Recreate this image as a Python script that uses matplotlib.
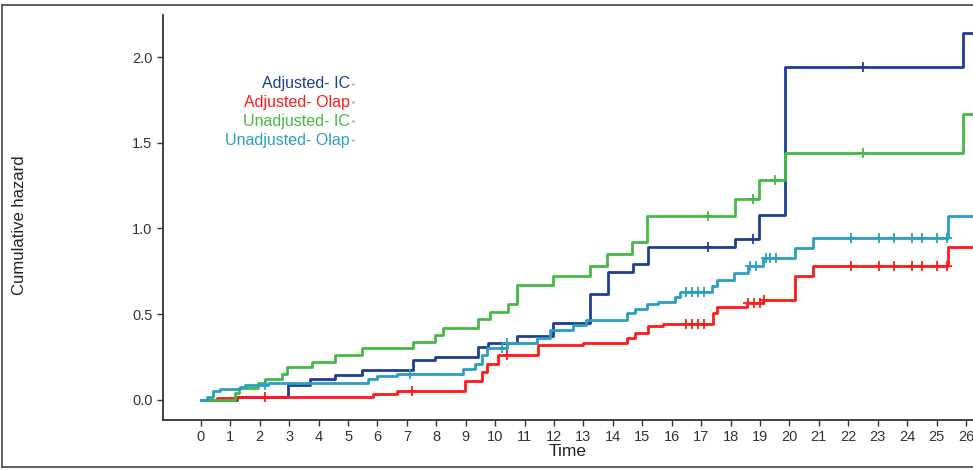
import numpy as np
import matplotlib
matplotlib.use('Agg')
import matplotlib.pyplot as plt
from matplotlib.lines import Line2D

plt.rcParams['font.family'] = ['Liberation Sans', 'DejaVu Sans']

# Данные ступенчатых кривых (время, кумулятивный риск)
green_t = [0, 1.16, 1.3, 1.94, 2.18, 2.74, 2.91, 3.76, 4.55, 5.46, 7.22, 7.95, 8.23, 9.43, 9.82,
           10.45, 10.73, 11.98, 13.22, 13.81, 14.66, 15.17, 18.15, 18.97, 19.85, 25.89, 26.5]
green_v = [0, 0.04, 0.07, 0.10, 0.12, 0.15, 0.19, 0.22, 0.26, 0.30, 0.34, 0.38, 0.42, 0.47, 0.51,
           0.56, 0.67, 0.72, 0.78, 0.85, 0.92, 1.07, 1.17, 1.28, 1.44, 1.67, 1.67]

blue_t = [0, 1.21, 2.97, 3.7, 4.55, 5.46, 7.22, 7.95, 9.43, 9.77, 10.73, 11.98, 13.22, 13.85,
          14.7, 15.2, 18.15, 18.98, 19.85, 25.89, 26.5]
blue_v = [0, 0.02, 0.09, 0.12, 0.146, 0.175, 0.233, 0.25, 0.31, 0.33, 0.37, 0.45, 0.62, 0.745,
          0.79, 0.89, 0.94, 1.08, 1.94, 2.14, 2.14]

red_t = [0, 0.53, 1.21, 5.86, 6.65, 8.97, 9.54, 9.71, 10.1, 11.47, 13.0, 14.47, 14.75, 15.2,
         15.7, 17.41, 17.53, 18.55, 19.1, 20.19, 20.81, 25.4, 26.5]
red_v = [0, 0.01, 0.02, 0.033, 0.054, 0.11, 0.165, 0.21, 0.26, 0.32, 0.334, 0.36, 0.39, 0.43,
         0.44, 0.505, 0.544, 0.567, 0.583, 0.723, 0.78, 0.89, 0.89]

teal_t = [0, 0.19, 0.42, 0.65, 1.33, 1.5, 2.29, 5.69, 5.97, 6.65, 8.92, 9.31, 9.54, 9.73, 10.41,
          11.41, 11.86, 12.66, 13.1, 14.47, 14.75, 15.15, 15.54, 16.11, 16.28, 17.36, 17.53,
          18.1, 18.6, 19.11, 20.19, 20.81, 25.4, 26.5]
teal_v = [0, 0.02, 0.05, 0.062, 0.078, 0.087, 0.10, 0.12, 0.14, 0.152, 0.18, 0.21, 0.26, 0.30,
          0.334, 0.36, 0.41, 0.437, 0.465, 0.505, 0.53, 0.56, 0.573, 0.60, 0.63, 0.665, 0.70,
          0.74, 0.78, 0.826, 0.885, 0.946, 1.073, 1.073]

# Цензурированные наблюдения
green_cens = [17.24, 18.77, 19.51, 22.49]
blue_cens = [17.24, 18.77, 22.49]
red_cens = [2.18, 7.16, 10.41, 16.5, 16.7, 16.9, 17.1, 18.6, 18.8, 19.0, 19.15,
            22.11, 23.05, 23.57, 24.16, 24.52, 25.0, 25.35]
teal_cens = [2.18, 7.1, 10.22, 10.41, 16.5, 16.7, 16.9, 17.1, 18.65, 18.85, 19.2, 19.35,
             19.55, 22.11, 23.05, 23.57, 24.16, 24.52, 25.0, 25.35]

labels = ['Adjusted- IC', 'Adjusted- Olap', 'Unadjusted- IC', 'Unadjusted- Olap']
colors = ['#1f3f8f', '#ff1a1a', '#45b845', '#2a9fc2']
xticks = list(range(0, 27))
yticks = [0.0, 0.5, 1.0, 1.5, 2.0]


def step_value(t, v, x):
    idx = np.searchsorted(t, x, side='right') - 1
    return np.array(v)[idx]


fig = plt.figure(figsize=(9.73, 4.70), dpi=100)
ax = fig.add_axes([163 / 973, 50 / 470, 1 - 163 / 973, 405 / 470])

curves = [(blue_t, blue_v, blue_cens), (red_t, red_v, red_cens),
          (green_t, green_v, green_cens), (teal_t, teal_v, teal_cens)]
order = [1, 3, 0, 2]
for i in order:
    t, v, cens = curves[i]
    ax.step(t, v, where='post', color=colors[i], linewidth=2.0, zorder=3 + i)
    ax.plot(cens, step_value(t, v, cens), linestyle='none', marker='+',
            markersize=7, markeredgewidth=1.3, color=colors[i], zorder=3 + i)

ax.set_xlim(-1.29, 26.24)
ax.set_ylim(-0.117, 2.245)
ax.set_xticks(xticks)
ax.set_yticks(yticks)
ax.set_yticklabels([f'{y:.1f}' for y in yticks])
ax.tick_params(axis='both', labelsize=10.5, colors='#333333', labelcolor='#333333',
               length=4, width=1)
for s in ['top', 'right']:
    ax.spines[s].set_visible(False)
for s in ['left', 'bottom']:
    ax.spines[s].set_linewidth(1.3)
    ax.spines[s].set_color('#333333')

ax.set_xlabel('Time', fontsize=12.5, labelpad=0, color='#222222')
fig.text(20 / 973, 1 - 225 / 470, 'Cumulative hazard', rotation=90, fontsize=12,
         ha='center', va='center', color='#222222')

# Легенда (подписи без ключей)
leg_y = [0.830, 0.785, 0.738, 0.691]
for lab, col, y in zip(labels, colors, leg_y):
    ax.text(0.231, y, lab, transform=ax.transAxes, ha='right', va='center',
            fontsize=11.5, color=col)
    ax.plot([0.235], [y], marker='.', markersize=2, color='#bbbbbb',
            transform=ax.transAxes, clip_on=False)

# Рамка вокруг рисунка
frame = [Line2D([2 / 973, 2 / 973], [3 / 470, 465 / 470]),
         Line2D([2 / 973, 1], [465 / 470, 465 / 470]),
         Line2D([2 / 973, 1], [3 / 470, 3 / 470])]
for ln in frame:
    ln.set_color('#444444')
    ln.set_linewidth(1.2)
    ln.set_transform(fig.transFigure)
    fig.add_artist(ln)

fig.savefig('out.png', dpi=100)
